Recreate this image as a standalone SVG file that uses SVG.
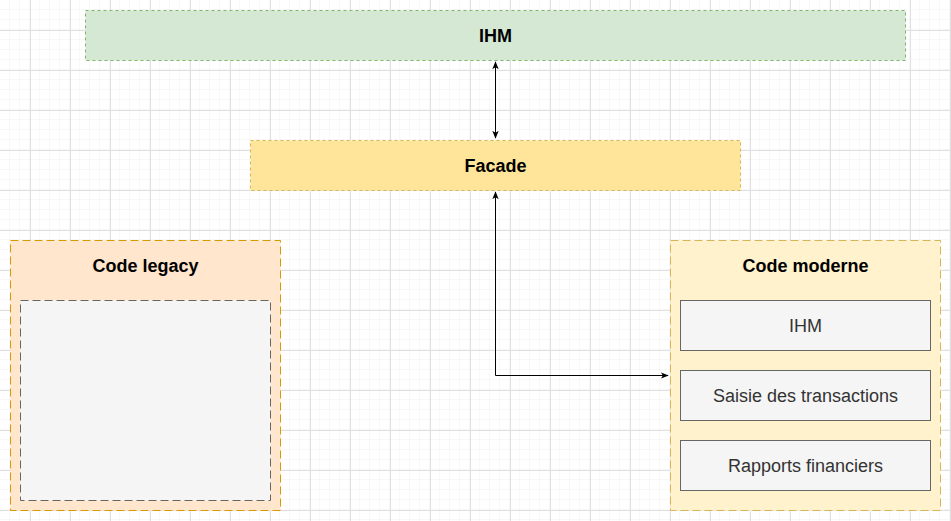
<svg xmlns="http://www.w3.org/2000/svg" width="951" height="521" viewBox="0 0 951 521">
<defs>
<pattern id="minor" width="10" height="10" patternUnits="userSpaceOnUse">
<path d="M10 0V10M0 10H10" fill="none" stroke="#f1f1f1" stroke-width="1"/>
</pattern>
<pattern id="major" x="30" y="30" width="40" height="40" patternUnits="userSpaceOnUse">
<path d="M0.5 0V40M0 0.5H40" fill="none" stroke="#e0e0e0" stroke-width="1"/>
</pattern>
<marker id="arr" viewBox="0 0 10 10" refX="9" refY="5" markerWidth="8" markerHeight="8" markerUnits="userSpaceOnUse" orient="auto-start-reverse">
<path d="M0 1L10 5L0 9L2.5 5Z" fill="#000"/>
</marker>
</defs>
<style>
.t{font-family:"Liberation Sans",Arial,sans-serif;font-size:18px;text-anchor:middle;dominant-baseline:central}
.b{font-weight:bold;fill:#000}
.n{fill:#333}
.c{fill:none;stroke:#000;stroke-width:1}
</style>
<rect width="951" height="521" fill="#fff"/>
<rect width="951" height="521" fill="url(#minor)"/>
<rect width="951" height="521" fill="url(#major)"/>
<g id="connectors">
<path class="c" d="M495.5 62V138" marker-start="url(#arr)" marker-end="url(#arr)"/>
<path class="c" d="M495.5 192V375.5H668" marker-start="url(#arr)" marker-end="url(#arr)"/>
</g>
<g id="ihm-top">
<rect x="85.5" y="10.5" width="820" height="50" fill="#d5e8d4" stroke="#82b366" stroke-dasharray="3 3"/>
<text class="t b" x="495.5" y="35.5">IHM</text>
</g>
<g id="facade">
<rect x="250.5" y="140.5" width="490" height="50" fill="#ffe599" stroke="#d6b656" stroke-dasharray="3 3"/>
<text class="t b" x="495.5" y="165.5">Facade</text>
</g>
<g id="code-legacy">
<rect x="10.5" y="240.5" width="270" height="270" fill="#ffe6cc" stroke="#d79b00" stroke-dasharray="8 4"/>
<text class="t b" x="145.5" y="266">Code legacy</text>
</g>
<g id="legacy-inner">
<rect x="20.5" y="300.5" width="250" height="200" fill="#f5f5f5" stroke="#666666" stroke-dasharray="8 4"/>
</g>
<g id="code-moderne">
<rect x="670.5" y="240.5" width="270" height="270" fill="#fff2cc" stroke="#d6b656" stroke-dasharray="8 4"/>
<text class="t b" x="805.5" y="266">Code moderne</text>
</g>
<g id="ihm">
<rect x="680.5" y="300.5" width="250" height="50" fill="#f5f5f5" stroke="#666666"/>
<text class="t n" x="805.5" y="326">IHM</text>
</g>
<g id="saisie">
<rect x="680.5" y="370.5" width="250" height="50" fill="#f5f5f5" stroke="#666666"/>
<text class="t n" x="805.5" y="396">Saisie des transactions</text>
</g>
<g id="rapports">
<rect x="680.5" y="440.5" width="250" height="50" fill="#f5f5f5" stroke="#666666"/>
<text class="t n" x="805.5" y="466">Rapports financiers</text>
</g>
</svg>
